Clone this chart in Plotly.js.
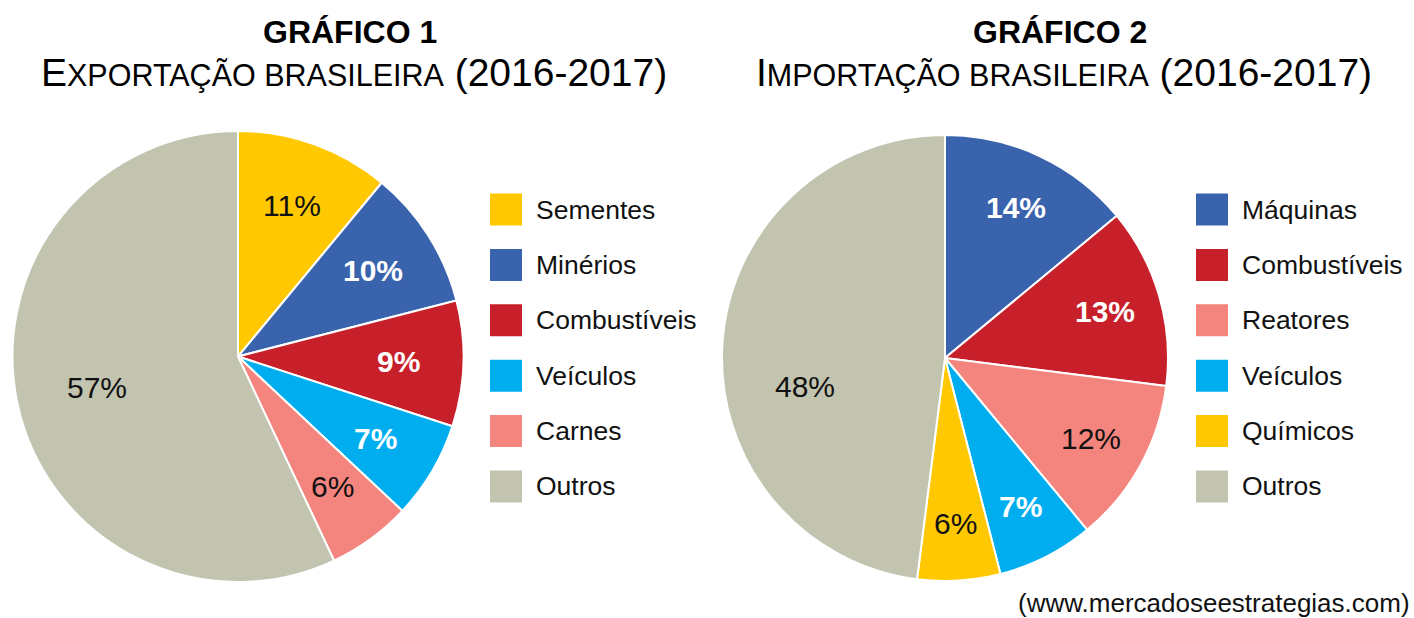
<!DOCTYPE html>
<html>
<head>
<meta charset="utf-8">
<script src="https://cdn.plot.ly/plotly-3.0.1.min.js"></script>
<style>html,body{margin:0;padding:0;background:#fff;}#chart{width:1414px;height:618px;}</style>
</head>
<body>
<div id="chart"></div>
<script>
// ---- DATA ----
const exportLabels = ["Sementes", "Minérios", "Combustíveis", "Veículos", "Carnes", "Outros"];
const exportValues = [11, 10, 9, 7, 6, 57];
const importLabels = ["Máquinas", "Combustíveis", "Reatores", "Veículos", "Químicos", "Outros"];
const importValues = [14, 13, 12, 7, 6, 48];
const title1Top = "GRÁFICO 1";
const title1Sub = ["E", "XPORTAÇÃO BRASILEIRA", " (2016-2017)"];
const title2Top = "GRÁFICO 2";
const title2Sub = ["I", "MPORTAÇÃO BRASILEIRA", " (2016-2017)"];
const sourceText = "(www.mercadoseestrategias.com)";

// ---- STYLE ----
const C = {
  yellow: "#FFC801", blue: "#3A63AE", red: "#C8202A", cyan: "#00AEEF",
  pink: "#F4847E", grey: "#C3C4B0"
};
const exportColors = [C.yellow, C.blue, C.red, C.cyan, C.pink, C.grey];
const importColors = [C.blue, C.red, C.pink, C.cyan, C.yellow, C.grey];
const exportLabelWhite = [false, true, true, true, false, false];
const importLabelWhite = [true, true, false, true, false, false];
// label placement style: angular nudge (deg) per slice
const exportLabelShift = [0, 0, 0, 0, 0, 0];
const importLabelShift = [0, 0, 0, 0, 0, -15];

const W = 1414, H = 618;
const FONT = "Liberation Sans, Arial, sans-serif";
const px = v => v / W;
const py = v => 1 - v / H;

const pies = [
  {cx: 238, cy: 356.5, r: 225.5, labels: exportLabels, values: exportValues, colors: exportColors, white: exportLabelWhite,
   shift: exportLabelShift, fSmall: 0.71, fBig: 0.64,
   legX: 490, titleTop: title1Top, titleSub: title1Sub, titleX: 350},
  {cx: 945, cy: 358, r: 223, labels: importLabels, values: importValues, colors: importColors, white: importLabelWhite,
   shift: importLabelShift, fSmall: 0.745, fBig: 0.64,
   legX: 1196, titleTop: title2Top, titleSub: title2Sub, titleX: 1060}
];

const traces = [];
const annotations = [];
const shapes = [];

pies.forEach((p, k) => {
  traces.push({
    type: "pie",
    labels: p.labels,
    values: p.values,
    sort: false,
    direction: "clockwise",
    rotation: 0,
    textinfo: "none",
    hoverinfo: "label+percent",
    showlegend: false,
    marker: {colors: p.colors, line: {color: "#ffffff", width: 2}},
    domain: {x: [px(p.cx - p.r), px(p.cx + p.r)], y: [py(p.cy + p.r), py(p.cy - p.r)]}
  });

  // slice labels placed from the data's cumulative angles
  const total = p.values.reduce((a, b) => a + b, 0);
  let cum = 0;
  p.values.forEach((v, i) => {
    const frac = v / total;
    const theta = 2 * Math.PI * (cum + frac / 2) + p.shift[i] * Math.PI / 180;
    cum += frac;
    const f = frac > 0.4 ? p.fBig : p.fSmall;
    const x = p.cx + f * p.r * Math.sin(theta);
    const y = p.cy - f * p.r * Math.cos(theta);
    const txt = Math.round(frac * 100) + "%";
    annotations.push({
      x: px(x), y: py(y), xref: "paper", yref: "paper", showarrow: false,
      xanchor: "center", yanchor: "middle",
      text: p.white[i] ? "<b>" + txt + "</b>" : txt,
      font: {family: FONT, size: 30, color: p.white[i] ? "#ffffff" : "#111111"}
    });
  });

  // legend
  p.labels.forEach((lab, i) => {
    const yc = 209.5 + i * 55.4;
    shapes.push({
      type: "rect", xref: "paper", yref: "paper",
      x0: px(p.legX), x1: px(p.legX + 32), y0: py(yc + 16), y1: py(yc - 16),
      fillcolor: p.colors[i], line: {width: 0}
    });
    annotations.push({
      x: px(p.legX + 44), y: py(yc), xref: "paper", yref: "paper", showarrow: false,
      xanchor: "left", yanchor: "middle", text: lab,
      font: {family: FONT, size: 26.5, color: "#111111"}
    });
  });

  // titles
  annotations.push({
    x: px(p.titleX), y: py(32), xref: "paper", yref: "paper", showarrow: false,
    xanchor: "center", yanchor: "middle", text: "<b>" + p.titleTop + "</b>",
    font: {family: FONT, size: 32, color: "#000000"}
  });
  annotations.push({
    x: px(p.titleX + 4), y: py(73), xref: "paper", yref: "paper", showarrow: false,
    xanchor: "center", yanchor: "middle",
    text: p.titleSub[0] + "<span style='font-size:30.5px'>" + p.titleSub[1] + "</span>" + p.titleSub[2],
    font: {family: FONT, size: 39, color: "#000000"}
  });
});

annotations.push({
  x: px(1411), y: py(603), xref: "paper", yref: "paper", showarrow: false,
  xanchor: "right", yanchor: "middle", text: sourceText, borderpad: 0,
  font: {family: FONT, size: 26, color: "#111111"}
});

const layout = {
  width: W, height: H,
  margin: {l: 0, r: 0, t: 0, b: 0},
  paper_bgcolor: "#ffffff",
  plot_bgcolor: "#ffffff",
  showlegend: false,
  annotations: annotations,
  shapes: shapes
};

Plotly.newPlot("chart", traces, layout, {displayModeBar: false, staticPlot: true});
</script>
</body>
</html>
